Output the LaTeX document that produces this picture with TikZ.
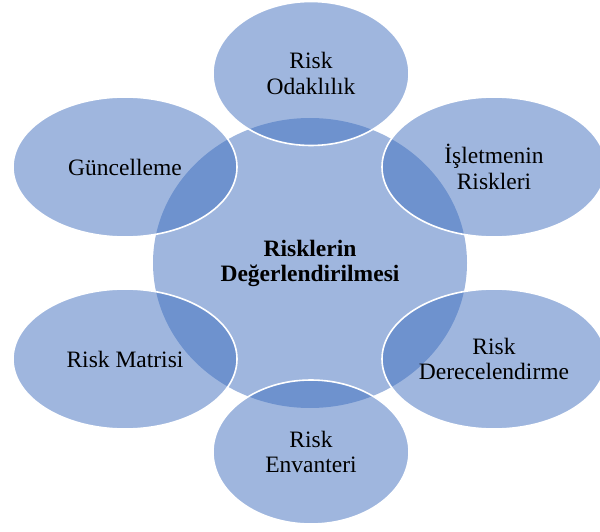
\documentclass[tikz,border=0pt]{standalone}
\usepackage{fontspec}
\setmainfont{Liberation Serif}
\usetikzlibrary{shapes.geometric}
\definecolor{vennblue}{RGB}{63,110,190}
\tikzset{
  bubble/.style={ellipse, inner sep=0pt, fill=vennblue, fill opacity=0.5,
    text opacity=1, align=center, text=black,
    font=\fontsize{23.5}{25.5}\selectfont},
  hub/.style={bubble, draw=none, font=\bfseries\fontsize{23.5}{25}\selectfont},
  petal/.style={bubble, draw=white, draw opacity=1, line width=1.6pt},
  petalv/.style={petal, minimum width=196pt, minimum height=144pt},
  petals/.style={petal, minimum width=224pt, minimum height=140pt}
}
\begin{document}
\begin{tikzpicture}[x=1pt, y=-1pt]
  \useasboundingbox (0,0) rectangle (600,532);
  % central circle
  \node[hub, minimum width=314pt, minimum height=290pt] (center) at (310,263)
    {Risklerin\\Değerlendirilmesi};
  % surrounding circles
  \node[petalv] (focus)  at (311,73.5) {Risk\\Odaklılık};
  \node[petals] (biz)    at (494,167)  {İşletmenin\\Riskleri};
  \node[petals] (rating) at (494,359)  {Risk\\Derecelendirme};
  \node[petalv] (inv)    at (311,452)  {Risk\\Envanteri};
  \node[petals] (matrix) at (125,359)  {Risk Matrisi};
  \node[petals] (update) at (125,167)  {Güncelleme};
\end{tikzpicture}
\end{document}
